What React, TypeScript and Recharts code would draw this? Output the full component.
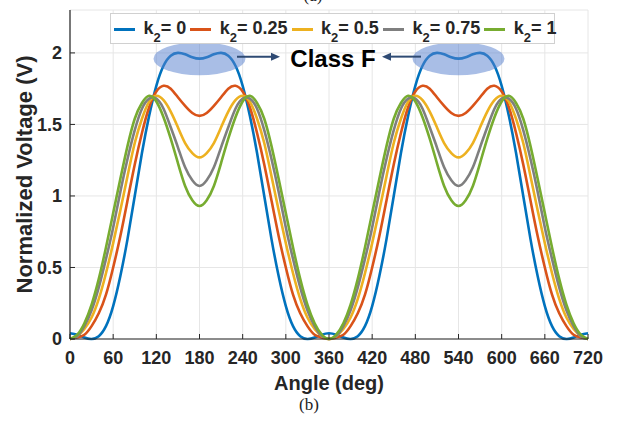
import React from 'react';
import { LineChart, Line, XAxis, YAxis, CartesianGrid, Legend, ReferenceDot, Label } from 'recharts';

const FONT = 'Arial, "Liberation Sans", Helvetica, sans-serif';

// Angle samples (deg)
const angles = [
  0, 10, 20, 30, 40, 50, 60, 70, 80, 90, 100, 110, 120, 130, 140, 150, 160, 170, 180,
  190, 200, 210, 220, 230, 240, 250, 260, 270, 280, 290, 300, 310, 320, 330, 340, 350, 360,
  370, 380, 390, 400, 410, 420, 430, 440, 450, 460, 470, 480, 490, 500, 510, 520, 530, 540,
  550, 560, 570, 580, 590, 600, 610, 620, 630, 640, 650, 660, 670, 680, 690, 700, 710, 720,
];

// Normalized voltage, one array per k2
const vK0 = [
  0.04, 0.03, 0.01, 0, 0.02, 0.09, 0.23, 0.44, 0.70, 1.00, 1.30, 1.56, 1.77, 1.91, 1.98, 2.00, 1.99, 1.97, 1.96,
  1.97, 1.99, 2.00, 1.98, 1.91, 1.77, 1.56, 1.30, 1.00, 0.70, 0.44, 0.23, 0.09, 0.02, 0, 0.01, 0.03, 0.04,
  0.03, 0.01, 0, 0.02, 0.09, 0.23, 0.44, 0.70, 1.00, 1.30, 1.56, 1.77, 1.91, 1.98, 2.00, 1.99, 1.97, 1.96,
  1.97, 1.99, 2.00, 1.98, 1.91, 1.77, 1.56, 1.30, 1.00, 0.70, 0.44, 0.23, 0.09, 0.02, 0, 0.01, 0.03, 0.04,
];
const vK025 = [
  0, 0.01, 0.03, 0.09, 0.18, 0.31, 0.50, 0.72, 0.97, 1.22, 1.44, 1.62, 1.73, 1.77, 1.75, 1.69, 1.63, 1.58, 1.56,
  1.58, 1.63, 1.69, 1.75, 1.77, 1.73, 1.62, 1.44, 1.22, 0.97, 0.72, 0.50, 0.31, 0.18, 0.09, 0.03, 0.01, 0,
  0.01, 0.03, 0.09, 0.18, 0.31, 0.50, 0.72, 0.97, 1.22, 1.44, 1.62, 1.73, 1.77, 1.75, 1.69, 1.63, 1.58, 1.56,
  1.58, 1.63, 1.69, 1.75, 1.77, 1.73, 1.62, 1.44, 1.22, 0.97, 0.72, 0.50, 0.31, 0.18, 0.09, 0.03, 0.01, 0,
];
const vK05 = [
  0, 0.02, 0.07, 0.15, 0.28, 0.46, 0.67, 0.90, 1.14, 1.37, 1.54, 1.66, 1.70, 1.67, 1.59, 1.48, 1.37, 1.30, 1.27,
  1.30, 1.37, 1.48, 1.59, 1.67, 1.70, 1.66, 1.54, 1.37, 1.14, 0.90, 0.67, 0.46, 0.28, 0.15, 0.07, 0.02, 0,
  0.02, 0.07, 0.15, 0.28, 0.46, 0.67, 0.90, 1.14, 1.37, 1.54, 1.66, 1.70, 1.67, 1.59, 1.48, 1.37, 1.30, 1.27,
  1.30, 1.37, 1.48, 1.59, 1.67, 1.70, 1.66, 1.54, 1.37, 1.14, 0.90, 0.67, 0.46, 0.28, 0.15, 0.07, 0.02, 0,
];
const vK075 = [
  0, 0.02, 0.09, 0.20, 0.36, 0.56, 0.78, 1.03, 1.26, 1.46, 1.61, 1.68, 1.68, 1.61, 1.48, 1.34, 1.20, 1.11, 1.07,
  1.11, 1.20, 1.34, 1.48, 1.61, 1.68, 1.68, 1.61, 1.46, 1.26, 1.03, 0.78, 0.56, 0.36, 0.20, 0.09, 0.02, 0,
  0.02, 0.09, 0.20, 0.36, 0.56, 0.78, 1.03, 1.26, 1.46, 1.61, 1.68, 1.68, 1.61, 1.48, 1.34, 1.20, 1.11, 1.07,
  1.11, 1.20, 1.34, 1.48, 1.61, 1.68, 1.68, 1.61, 1.46, 1.26, 1.03, 0.78, 0.56, 0.36, 0.20, 0.09, 0.02, 0,
];
const vK1 = [
  0, 0.03, 0.11, 0.24, 0.42, 0.64, 0.88, 1.12, 1.35, 1.54, 1.65, 1.70, 1.66, 1.55, 1.40, 1.23, 1.07, 0.97, 0.93,
  0.97, 1.07, 1.23, 1.40, 1.55, 1.66, 1.70, 1.65, 1.54, 1.35, 1.12, 0.88, 0.64, 0.42, 0.24, 0.11, 0.03, 0,
  0.03, 0.11, 0.24, 0.42, 0.64, 0.88, 1.12, 1.35, 1.54, 1.65, 1.70, 1.66, 1.55, 1.40, 1.23, 1.07, 0.97, 0.93,
  0.97, 1.07, 1.23, 1.40, 1.55, 1.66, 1.70, 1.65, 1.54, 1.35, 1.12, 0.88, 0.64, 0.42, 0.24, 0.11, 0.03, 0,
];

const seriesKeys = ['k0', 'k025', 'k05', 'k075', 'k1'];
const seriesLabels = ['0', '0.25', '0.5', '0.75', '1'];
const seriesValues = [vK0, vK025, vK05, vK075, vK1];
const seriesColors = ['#0072BD', '#D95319', '#EDB120', '#7F7F7F', '#77AC30'];

const xTicks = [0, 60, 120, 180, 240, 300, 360, 420, 480, 540, 600, 660, 720];
const yTicks = [0, 0.5, 1, 1.5, 2];

// Annotation anchors (data coordinates)
const classFPeaks = [180, 540];
const classFLevel = 1.96;
const classFTextAt = 360;

const data = angles.map((a, i) => {
  const row: Record<string, number> = { angle: a };
  seriesKeys.forEach((k, j) => {
    row[k] = seriesValues[j][i];
  });
  return row;
});

const AXIS_COLOR = '#262626';
const tickStyle = { fill: AXIS_COLOR, fontSize: 18, fontWeight: 700, fontFamily: FONT };

const LegendBox = () => (
  <div
    style={{
      boxSizing: 'border-box',
      width: 445,
      height: 31,
      border: '1px solid #d0d0d0',
      background: '#fff',
      display: 'flex',
      alignItems: 'flex-start',
      paddingLeft: 3,
      fontFamily: FONT,
      fontWeight: 700,
      fontSize: 18,
      color: AXIS_COLOR,
      lineHeight: '20px',
    }}
  >
    {seriesLabels.map((lab, i) => (
      <div key={lab} style={{ display: 'flex', alignItems: 'flex-start', marginRight: 4 }}>
        <span
          style={{
            display: 'inline-block',
            width: 21,
            height: 3,
            background: seriesColors[i],
            marginTop: 13.5,
            marginRight: 8.5,
          }}
        />
        <span style={{ marginTop: 4, whiteSpace: 'nowrap' }}>
          k<span style={{ fontSize: 13, position: 'relative', top: 7.5, lineHeight: 0 }}>2</span>= {lab}
        </span>
      </div>
    ))}
  </div>
);

const EllipseShape = (p: any) => (
  <ellipse cx={p.cx} cy={p.cy} rx={46} ry={16.5} fill="#5a82d0" fillOpacity={0.52} stroke="none" />
);

const ARROW = '#2e4a73';
const ClassFShape = (p: any) => {
  const cx = p.cx;
  const cy = p.cy;
  const ay = cy - 2;
  return (
    <g>
      <line x1={cx - 92} y1={ay} x2={cx - 57} y2={ay} stroke={ARROW} strokeWidth={2} />
      <polygon points={`${cx - 49},${ay} ${cx - 58},${ay - 4} ${cx - 58},${ay + 4}`} fill={ARROW} />
      <line x1={cx + 92} y1={ay} x2={cx + 61} y2={ay} stroke={ARROW} strokeWidth={2} />
      <polygon points={`${cx + 53},${ay} ${cx + 62},${ay - 4} ${cx + 62},${ay + 4}`} fill={ARROW} />
      <text
        x={cx + 4}
        y={cy + 8}
        textAnchor="middle"
        fontFamily={FONT}
        fontWeight={700}
        fontSize={24}
        fill="#000"
      >
        Class F
      </text>
    </g>
  );
};

export default function App() {
  return (
    <div style={{ position: 'absolute', left: 0, top: 0, width: 618, height: 425, background: '#fff' }}>
      <div
        style={{
          position: 'absolute',
          left: 0,
          width: 626,
          top: -14,
          textAlign: 'center',
          fontFamily: '"Times New Roman", "Liberation Serif", serif',
          fontSize: 17,
          color: '#222',
        }}
      >
        (a)
      </div>
      <LineChart
        width={618}
        height={425}
        data={data}
        margin={{ top: 10, right: 30, left: 0, bottom: 36 }}
      >
        <CartesianGrid stroke="#e6e6e6" strokeWidth={1} />
        <XAxis
          dataKey="angle"
          type="number"
          domain={[0, 720]}
          ticks={xTicks}
          height={50}
          tickSize={-5}
          tickMargin={17}
          tick={tickStyle}
          axisLine={{ stroke: AXIS_COLOR, strokeWidth: 1.2 }}
          tickLine={{ stroke: AXIS_COLOR }}
          interval={0}
        >
          <Label
            value="Angle (deg)"
            position="insideBottom"
            offset={-1}
            style={{ fontSize: 20, fontWeight: 700, fill: AXIS_COLOR, fontFamily: FONT }}
          />
        </XAxis>
        <XAxis
          xAxisId="top"
          orientation="top"
          dataKey="angle"
          type="number"
          domain={[0, 720]}
          ticks={xTicks}
          height={0}
          tickSize={-5}
          tick={() => <g />}
          axisLine={{ stroke: AXIS_COLOR, strokeWidth: 1.2 }}
          tickLine={{ stroke: AXIS_COLOR }}
          interval={0}
        />
        <YAxis
          type="number"
          domain={[0, 2.3]}
          ticks={yTicks}
          width={70}
          tickSize={-5}
          tickMargin={13}
          tick={tickStyle}
          axisLine={{ stroke: AXIS_COLOR, strokeWidth: 1.2 }}
          tickLine={{ stroke: AXIS_COLOR }}
          interval={0}
        >
          <Label
            value="Normalized Voltage (V)"
            angle={-90}
            position="insideLeft"
            offset={24}
            style={{ textAnchor: 'middle', fontSize: 22, fontWeight: 700, fill: AXIS_COLOR, fontFamily: FONT }}
          />
        </YAxis>
        <YAxis
          yAxisId="right"
          orientation="right"
          type="number"
          domain={[0, 2.3]}
          ticks={yTicks}
          width={0}
          tickSize={-5}
          tick={() => <g />}
          axisLine={{ stroke: AXIS_COLOR, strokeWidth: 1.2 }}
          tickLine={{ stroke: AXIS_COLOR }}
          interval={0}
        />
        {classFPeaks.map((px) => (
          <ReferenceDot key={px} x={px} y={classFLevel} shape={EllipseShape} isFront={false} />
        ))}
        {seriesKeys.map((k, j) => (
          <Line
            key={k}
            dataKey={k}
            type="natural"
            stroke={seriesColors[j]}
            strokeWidth={2.6}
            dot={false}
            activeDot={false}
            isAnimationActive={false}
          />
        ))}
        <ReferenceDot x={classFTextAt} y={classFLevel} shape={ClassFShape} />
        <Legend
          layout="vertical"
          align="center"
          verticalAlign="middle"
          width={445}
          height={31}
          wrapperStyle={{ left: 110, top: 13, width: 445, height: 31 }}
          content={() => <LegendBox />}
        />
      </LineChart>
      <div
        style={{
          position: 'absolute',
          left: 0,
          width: 618,
          top: 395,
          textAlign: 'center',
          fontFamily: '"Times New Roman", "Liberation Serif", serif',
          fontSize: 17,
          color: '#222',
        }}
      >
        (b)
      </div>
    </div>
  );
}
